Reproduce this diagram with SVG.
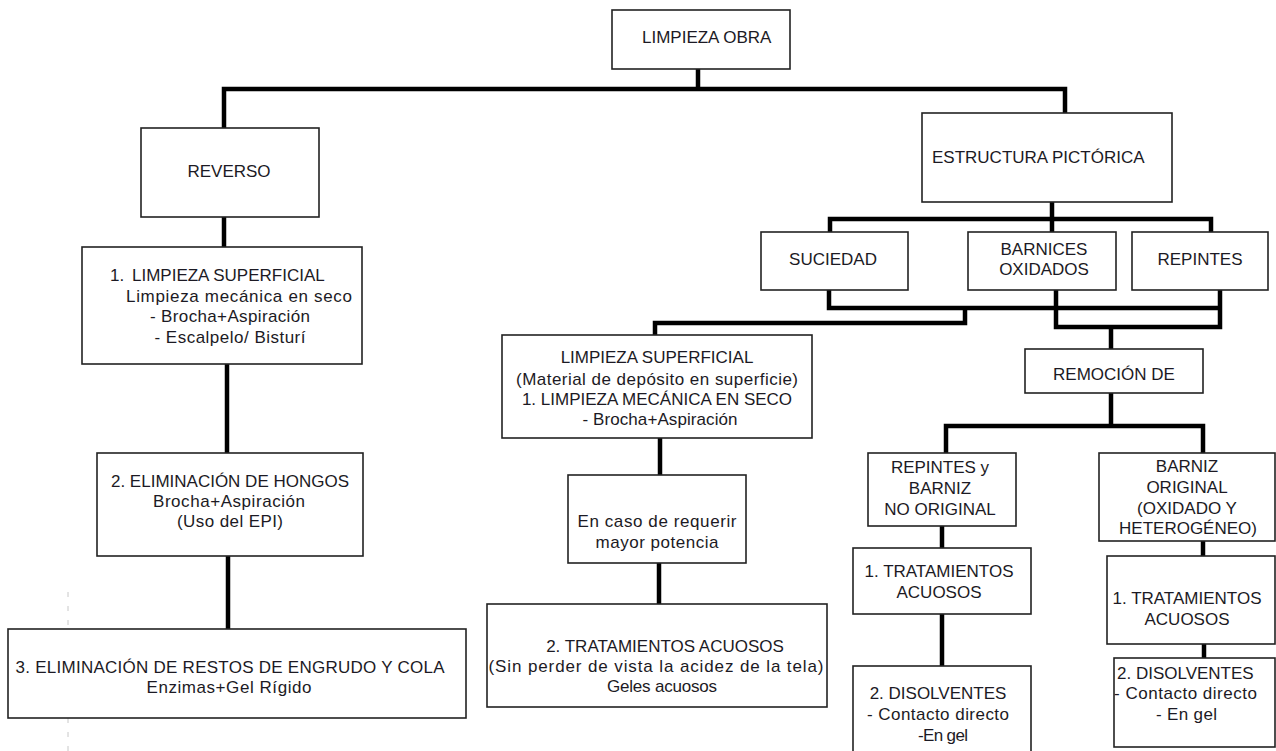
<svg xmlns="http://www.w3.org/2000/svg" width="1276" height="751" viewBox="0 0 1276 751">
<style>
.box{fill:#fff;stroke:#222;stroke-width:1.6}
.t{font-family:"Liberation Sans",Arial,sans-serif;font-size:17px;fill:#1c1a24}
.m{text-anchor:middle}
.c{fill:none;stroke:#000;stroke-width:4.5;stroke-linecap:butt;stroke-linejoin:miter}
.g{fill:none;stroke:#c8c8c8;stroke-width:1;stroke-dasharray:5 9}
</style>
<rect width="1276" height="751" fill="#fff"/>
<line class="g" x1="68" y1="592" x2="68" y2="751"/>
<g id="connectors">
<path class="c" d="M698,69V89"/>
<path class="c" d="M224,128V89H1065V115"/>
<path class="c" d="M224,217V247"/>
<path class="c" d="M227,364V453"/>
<path class="c" d="M228,556V629"/>
<path class="c" d="M1052,202V219"/>
<path class="c" d="M830,232V219H1211V232"/>
<path class="c" d="M1052,219V232"/>
<path class="c" d="M829,290V308H1220"/>
<path class="c" d="M1220,290V327H1056V290"/>
<path class="c" d="M965,308V323H655V335"/>
<path class="c" d="M1111,327V349"/>
<path class="c" d="M660,438V475"/>
<path class="c" d="M659,563V604"/>
<path class="c" d="M1111,393V426"/>
<path class="c" d="M946,453V426H1203V453"/>
<path class="c" d="M942,526V548"/>
<path class="c" d="M942,614V666"/>
<path class="c" d="M1203,541V556"/>
<path class="c" d="M1204,644V658"/>
</g>
<g id="n-limpieza-obra">
<rect class="box" x="612" y="10" width="178" height="59"/>
<text class="t" x="642" y="43">LIMPIEZA OBRA</text>
</g>
<g id="n-reverso">
<rect class="box" x="141" y="128" width="178" height="89"/>
<text class="t m" x="229" y="177">REVERSO</text>
</g>
<g id="n-limpieza-superficial-1">
<rect class="box" x="82" y="247" width="280" height="117"/>
<text class="t" x="110" y="281">1.<tspan x="132">LIMPIEZA SUPERFICIAL</tspan></text>
<text class="t" x="126" y="302" textLength="226" lengthAdjust="spacing">Limpieza mecánica en seco</text>
<text class="t m" x="230" y="322" textLength="160" lengthAdjust="spacing">- Brocha+Aspiración</text>
<text class="t m" x="230" y="343" textLength="151" lengthAdjust="spacing">- Escalpelo/ Bisturí</text>
</g>
<g id="n-hongos">
<rect class="box" x="97" y="453" width="266" height="103"/>
<text class="t m" x="230" y="487">2. ELIMINACIÓN DE HONGOS</text>
<text class="t m" x="229" y="507" textLength="152" lengthAdjust="spacing">Brocha+Aspiración</text>
<text class="t m" x="230" y="527" textLength="106" lengthAdjust="spacing">(Uso del EPI)</text>
</g>
<g id="n-engrudo">
<rect class="box" x="8" y="629" width="458" height="89"/>
<text class="t m" x="230" y="673" textLength="429" lengthAdjust="spacing">3. ELIMINACIÓN DE RESTOS DE ENGRUDO Y COLA</text>
<text class="t m" x="229" y="693" textLength="165" lengthAdjust="spacing">Enzimas+Gel Rígido</text>
</g>
<g id="n-estructura">
<rect class="box" x="922" y="113" width="250" height="89"/>
<text class="t" x="932" y="163">ESTRUCTURA PICTÓRICA</text>
</g>
<g id="n-suciedad">
<rect class="box" x="761" y="232" width="147" height="58"/>
<text class="t m" x="833" y="265">SUCIEDAD</text>
</g>
<g id="n-barnices">
<rect class="box" x="968" y="232" width="148" height="58"/>
<text class="t m" x="1044" y="255">BARNICES</text>
<text class="t m" x="1044" y="275">OXIDADOS</text>
</g>
<g id="n-repintes">
<rect class="box" x="1132" y="232" width="136" height="58"/>
<text class="t m" x="1200" y="265">REPINTES</text>
</g>
<g id="n-limpieza-superficial-2">
<rect class="box" x="502" y="335" width="310" height="103"/>
<text class="t m" x="657" y="363">LIMPIEZA SUPERFICIAL</text>
<text class="t m" x="657" y="385" textLength="282" lengthAdjust="spacing">(Material de depósito en superficie)</text>
<text class="t m" x="657" y="405">1. LIMPIEZA MECÁNICA EN SECO</text>
<text class="t m" x="660" y="425" textLength="155" lengthAdjust="spacing">- Brocha+Aspiración</text>
</g>
<g id="n-en-caso">
<rect class="box" x="568" y="475" width="178" height="88"/>
<text class="t m" x="657" y="527" textLength="159" lengthAdjust="spacing">En caso de requerir</text>
<text class="t m" x="657" y="548" textLength="123" lengthAdjust="spacing">mayor potencia</text>
</g>
<g id="n-tratamientos-acuosos-2">
<rect class="box" x="487" y="604" width="340" height="103"/>
<text class="t m" x="665" y="652">2. TRATAMIENTOS ACUOSOS</text>
<text class="t m" x="656" y="672" textLength="335" lengthAdjust="spacing">(Sin perder de vista la acidez de la tela)</text>
<text class="t m" x="662" y="692" textLength="110" lengthAdjust="spacing">Geles acuosos</text>
</g>
<g id="n-remocion">
<rect class="box" x="1025" y="349" width="178" height="44"/>
<text class="t m" x="1114" y="380">REMOCIÓN DE</text>
</g>
<g id="n-repintes-barniz">
<rect class="box" x="868" y="453" width="148" height="73"/>
<text class="t m" x="940" y="473">REPINTES y</text>
<text class="t m" x="940" y="494">BARNIZ</text>
<text class="t m" x="940" y="515">NO ORIGINAL</text>
</g>
<g id="n-barniz-original">
<rect class="box" x="1099" y="453" width="176" height="88"/>
<text class="t m" x="1187" y="472">BARNIZ</text>
<text class="t m" x="1187" y="493">ORIGINAL</text>
<text class="t m" x="1187" y="514">(OXIDADO Y</text>
<text class="t m" x="1188" y="534">HETEROGÉNEO)</text>
</g>
<g id="n-tratamientos-izq">
<rect class="box" x="853" y="548" width="178" height="66"/>
<text class="t m" x="939" y="577">1. TRATAMIENTOS</text>
<text class="t m" x="939" y="598">ACUOSOS</text>
</g>
<g id="n-disolventes-izq">
<rect class="box" x="853" y="666" width="178" height="90"/>
<text class="t m" x="938" y="699">2. DISOLVENTES</text>
<text class="t m" x="938" y="720" textLength="142" lengthAdjust="spacing">- Contacto directo</text>
<text class="t m" x="943" y="741" textLength="50" lengthAdjust="spacing">-En gel</text>
</g>
<g id="n-tratamientos-der">
<rect class="box" x="1107" y="556" width="168" height="88"/>
<text class="t m" x="1187" y="604">1. TRATAMIENTOS</text>
<text class="t m" x="1187" y="625">ACUOSOS</text>
</g>
<g id="n-disolventes-der">
<rect class="box" x="1114" y="658" width="161" height="89"/>
<text class="t" x="1117" y="679">2. DISOLVENTES</text>
<text class="t" x="1114" y="699" textLength="143" lengthAdjust="spacing">- Contacto directo</text>
<text class="t" x="1156" y="720" textLength="61" lengthAdjust="spacing">- En gel</text>
</g>
</svg>
